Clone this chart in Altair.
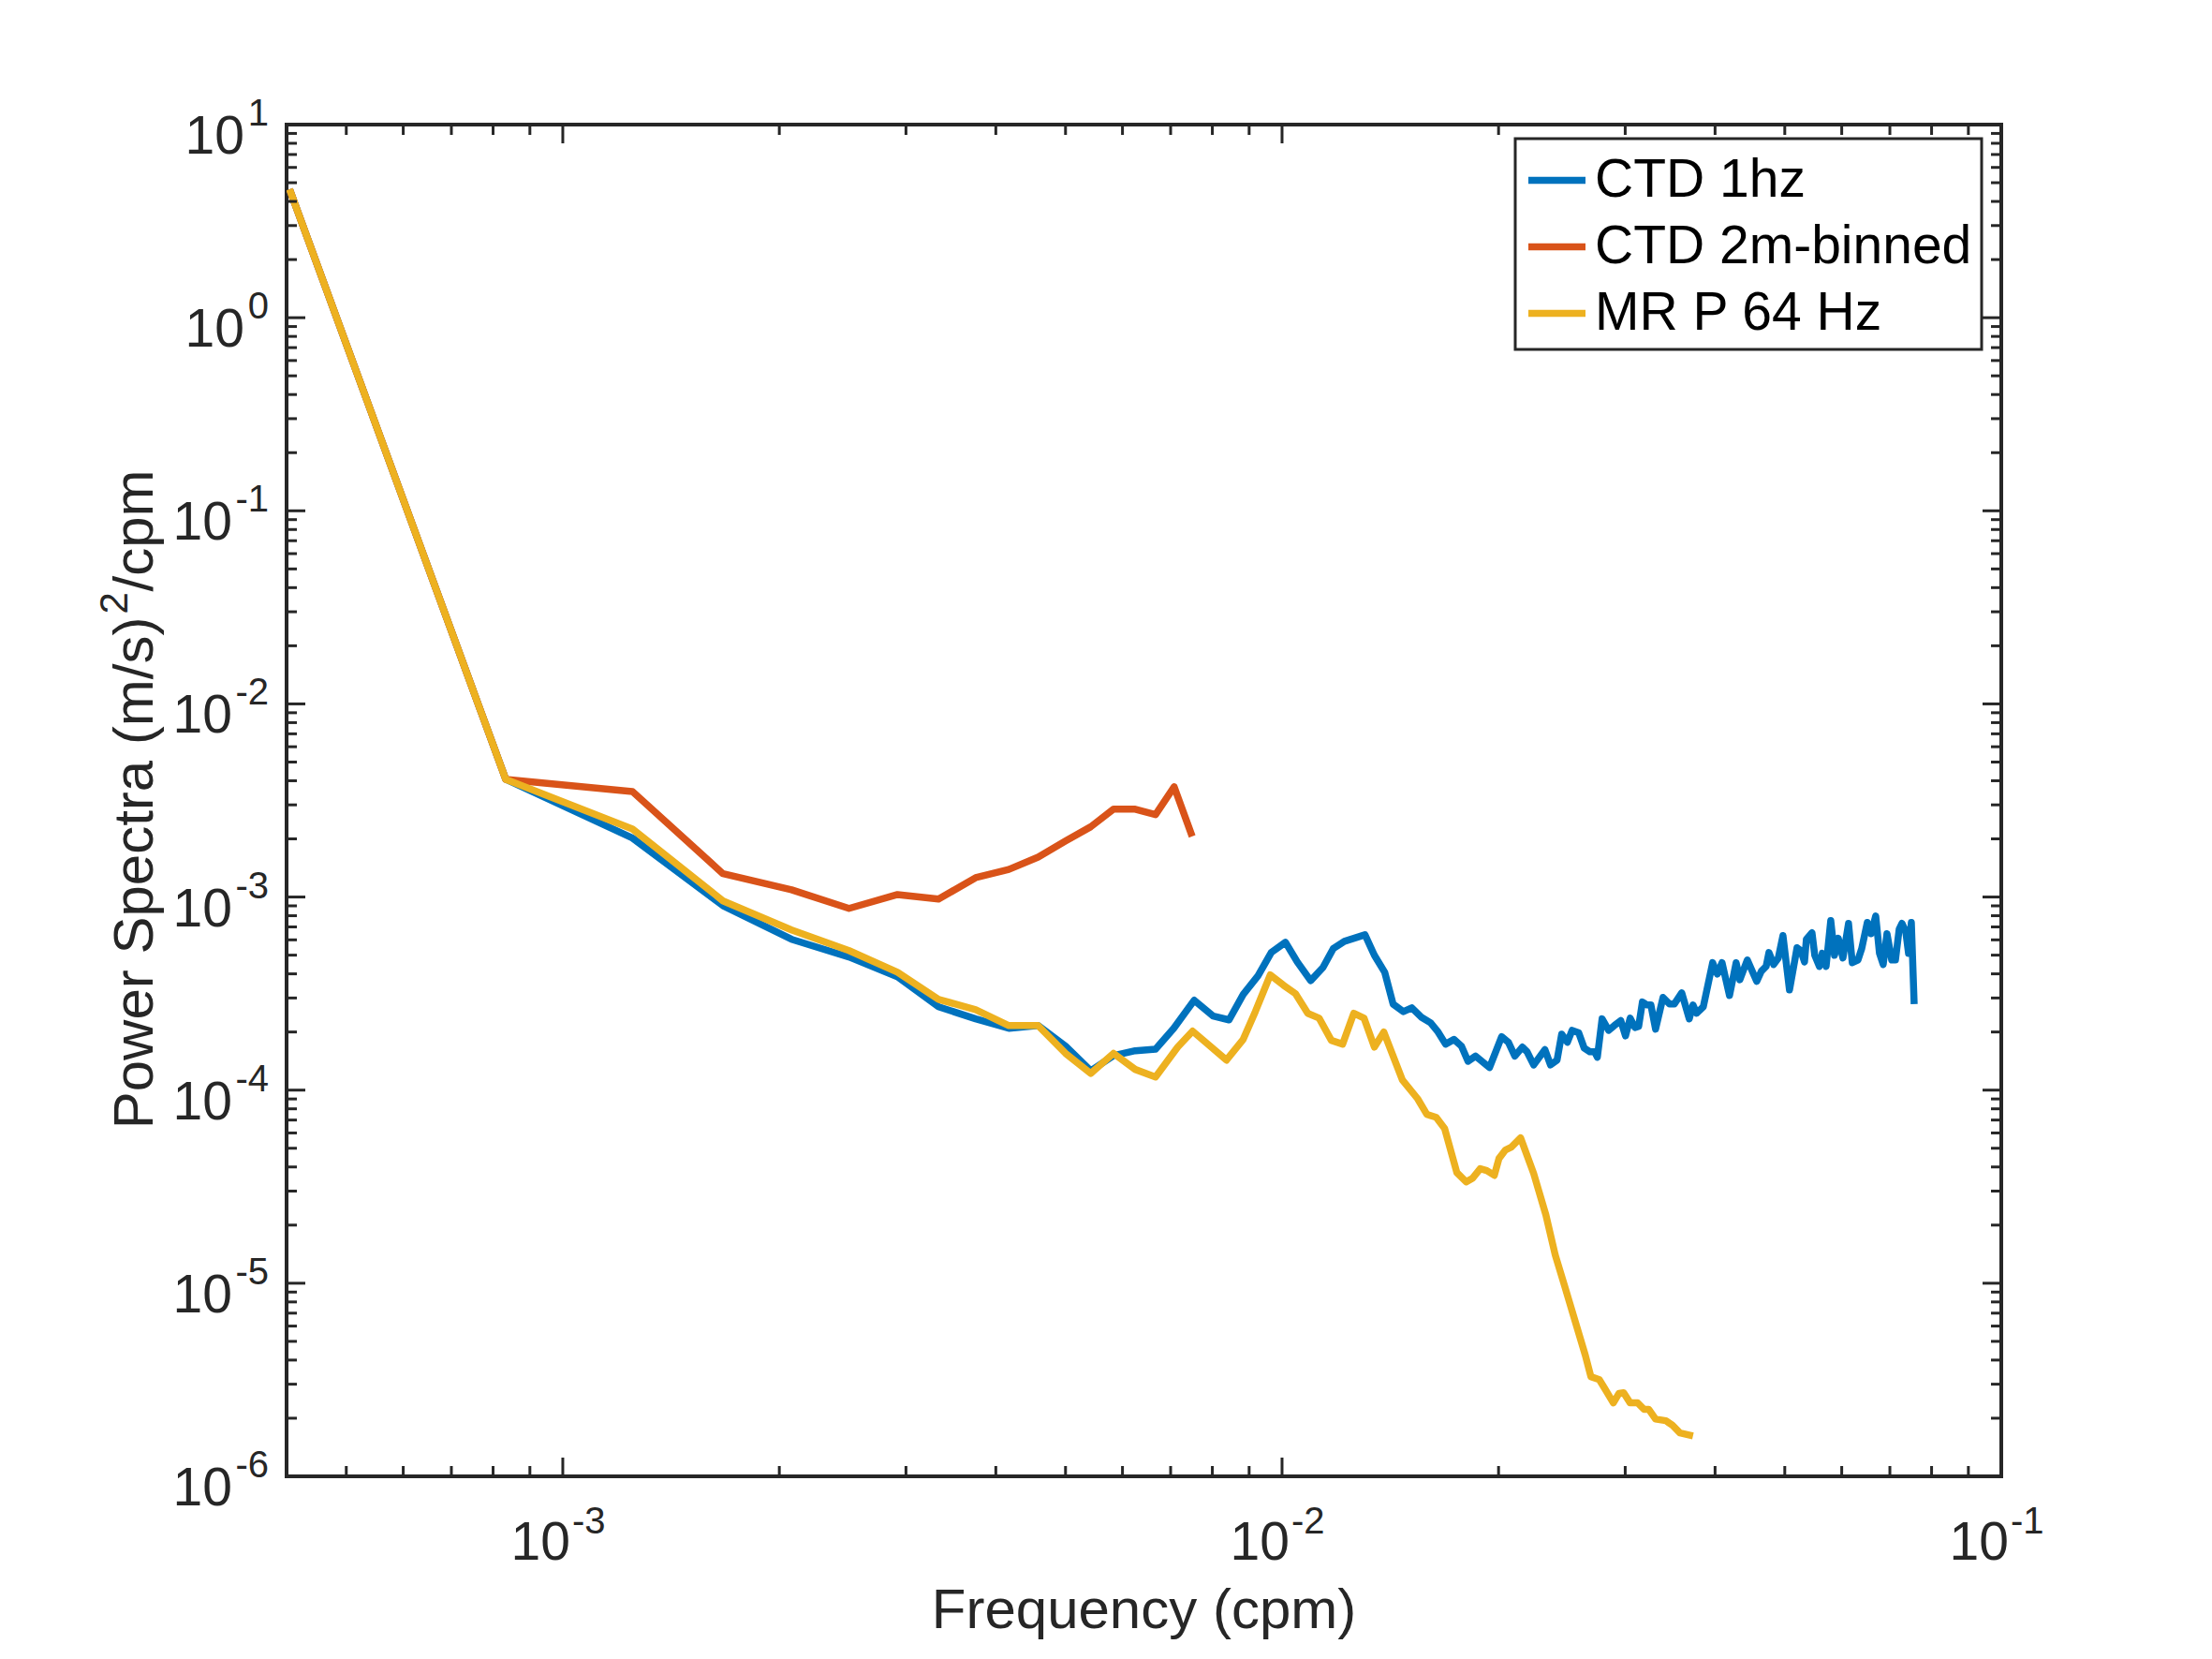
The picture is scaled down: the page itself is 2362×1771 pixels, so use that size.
import altair as alt
import pandas as pd

# ---------------- data ----------------
SERIES = ["CTD 1hz", "CTD 2m-binned", "MR P 64 Hz"]
COLORS = ["#0072BD", "#D95319", "#EDB120"]

ctd1_lo_freq = [4.17e-4, 8.33e-4, 1.25e-3, 1.67e-3, 2.08e-3, 2.50e-3, 2.92e-3, 3.33e-3, 3.75e-3, 4.17e-3,
                4.58e-3, 5.00e-3, 5.42e-3, 5.83e-3, 6.25e-3, 6.67e-3, 7.07e-3, 7.55e-3, 8.02e-3, 8.44e-3,
                8.83e-3, 9.26e-3, 9.66e-3, 1.011e-2, 1.05e-2, 1.096e-2, 1.14e-2, 1.178e-2, 1.221e-2, 1.304e-2,
                1.344e-2, 1.389e-2, 1.427e-2, 1.475e-2, 1.515e-2, 1.561e-2, 1.609e-2, 1.648e-2, 1.688e-2, 1.734e-2]
ctd1_lo_psd = [4.62, 4.07e-3, 2.02e-3, 9.02e-4, 6.04e-4, 4.89e-4, 3.86e-4, 2.70e-4, 2.34e-4, 2.09e-4,
               2.16e-4, 1.69e-4, 1.26e-4, 1.51e-4, 1.60e-4, 1.63e-4, 2.09e-4, 2.92e-4, 2.42e-4, 2.31e-4,
               3.13e-4, 3.91e-4, 5.16e-4, 5.83e-4, 4.61e-4, 3.69e-4, 4.32e-4, 5.40e-4, 5.90e-4, 6.38e-4,
               4.99e-4, 4.08e-4, 2.79e-4, 2.55e-4, 2.67e-4, 2.39e-4, 2.23e-4, 2.00e-4, 1.73e-4, 1.83e-4]

ctd1_hi_freq = [0.01776, 0.01814, 0.01858, 0.01943, 0.02020, 0.02064, 0.02107, 0.02158, 0.02191, 0.02238,
                0.02320, 0.02362, 0.02412, 0.02448, 0.02493, 0.02531, 0.02585, 0.02631, 0.02679, 0.02720,
                0.02744, 0.02786, 0.02845, 0.02897, 0.02958, 0.03003, 0.03048, 0.03095, 0.03132, 0.03170,
                0.03218, 0.03257, 0.03306, 0.03386, 0.03458, 0.03510, 0.03595, 0.03683, 0.03727, 0.03771,
                0.03852, 0.03969, 0.04029, 0.04090, 0.04189, 0.04279, 0.04330, 0.04435, 0.04570, 0.04639,
                0.04710, 0.04753, 0.04825, 0.04897, 0.04971, 0.05076, 0.05200, 0.05263, 0.05326, 0.05358,
                0.05455, 0.05504, 0.05587, 0.05638, 0.05707, 0.05793, 0.05863, 0.05934, 0.06023, 0.06132,
                0.06206, 0.06320, 0.06396, 0.06512, 0.06591, 0.06690, 0.06771, 0.06852, 0.06935, 0.07041,
                0.07126, 0.07212, 0.07277, 0.07365, 0.07431, 0.07498, 0.07566]
ctd1_hi_psd = [1.69e-4, 1.41e-4, 1.50e-4, 1.31e-4, 1.89e-4, 1.77e-4, 1.50e-4, 1.67e-4, 1.58e-4, 1.35e-4,
               1.62e-4, 1.35e-4, 1.43e-4, 1.95e-4, 1.77e-4, 2.04e-4, 1.98e-4, 1.65e-4, 1.58e-4, 1.58e-4,
               1.48e-4, 2.34e-4, 2.04e-4, 2.16e-4, 2.29e-4, 1.91e-4, 2.36e-4, 2.11e-4, 2.14e-4, 2.86e-4,
               2.76e-4, 2.76e-4, 2.07e-4, 3.02e-4, 2.79e-4, 2.79e-4, 3.19e-4, 2.34e-4, 2.76e-4, 2.50e-4,
               2.70e-4, 4.57e-4, 3.99e-4, 4.57e-4, 3.09e-4, 4.57e-4, 3.73e-4, 4.72e-4, 3.66e-4, 4.13e-4,
               4.37e-4, 5.16e-4, 4.47e-4, 4.83e-4, 6.31e-4, 3.30e-4, 5.46e-4, 5.28e-4, 4.61e-4, 6.04e-4,
               6.53e-4, 4.99e-4, 4.37e-4, 5.11e-4, 4.37e-4, 7.55e-4, 4.99e-4, 6.11e-4, 4.83e-4, 7.30e-4,
               4.57e-4, 4.72e-4, 5.40e-4, 7.38e-4, 6.46e-4, 7.98e-4, 5.11e-4, 4.47e-4, 6.46e-4, 4.72e-4,
               4.72e-4, 6.82e-4, 7.30e-4, 6.61e-4, 5.11e-4, 7.38e-4, 2.79e-4]

ctd2m_freq = [4.17e-4, 8.33e-4, 1.25e-3, 1.67e-3, 2.08e-3, 2.50e-3, 2.92e-3, 3.33e-3, 3.75e-3, 4.17e-3,
              4.58e-3, 5.00e-3, 5.42e-3, 5.83e-3, 6.25e-3, 6.67e-3, 7.08e-3, 7.50e-3]
ctd2m_psd = [4.62, 4.07e-3, 3.52e-3, 1.32e-3, 1.09e-3, 8.73e-4, 1.03e-3, 9.75e-4, 1.26e-3, 1.39e-3,
             1.61e-3, 1.95e-3, 2.31e-3, 2.85e-3, 2.85e-3, 2.67e-3, 3.72e-3, 2.06e-3]

mrp_freq = [4.17e-4, 8.33e-4, 1.25e-3, 1.67e-3, 2.08e-3, 2.50e-3, 2.92e-3, 3.33e-3, 3.75e-3, 4.17e-3,
            4.58e-3, 5.00e-3, 5.42e-3, 5.83e-3, 6.25e-3, 6.67e-3, 7.16e-3, 7.51e-3, 8.37e-3, 8.83e-3,
            9.18e-3, 9.63e-3, 1.005e-2, 1.044e-2, 1.086e-2, 1.126e-2, 1.171e-2, 1.214e-2, 1.258e-2, 1.30e-2,
            1.344e-2, 1.385e-2, 1.470e-2, 1.543e-2, 1.590e-2, 1.638e-2, 1.683e-2, 1.750e-2, 1.803e-2, 1.841e-2,
            1.886e-2, 1.926e-2, 1.973e-2, 2.003e-2, 2.045e-2, 2.083e-2, 2.146e-2, 2.238e-2, 2.327e-2, 2.398e-2,
            2.471e-2, 2.570e-2, 2.640e-2, 2.688e-2, 2.761e-2, 2.811e-2, 2.888e-2, 2.941e-2, 2.985e-2, 3.048e-2,
            3.122e-2, 3.188e-2, 3.236e-2, 3.306e-2, 3.417e-2, 3.489e-2, 3.574e-2, 3.727e-2]
mrp_psd = [4.62, 4.07e-3, 2.25e-3, 9.55e-4, 6.75e-4, 5.28e-4, 4.08e-4, 2.95e-4, 2.61e-4, 2.16e-4,
           2.16e-4, 1.55e-4, 1.22e-4, 1.55e-4, 1.28e-4, 1.17e-4, 1.67e-4, 2.02e-4, 1.43e-4, 1.83e-4,
           2.55e-4, 3.95e-4, 3.49e-4, 3.16e-4, 2.50e-4, 2.36e-4, 1.81e-4, 1.73e-4, 2.50e-4, 2.36e-4,
           1.67e-4, 2.00e-4, 1.13e-4, 9.04e-5, 7.48e-5, 7.23e-5, 6.32e-5, 3.74e-5, 3.35e-5, 3.50e-5,
           3.92e-5, 3.83e-5, 3.62e-5, 4.43e-5, 4.90e-5, 5.06e-5, 5.66e-5, 3.70e-5, 2.26e-5, 1.40e-5,
           9.68e-6, 5.93e-6, 4.24e-6, 3.28e-6, 3.17e-6, 2.84e-6, 2.40e-6, 2.69e-6, 2.71e-6, 2.40e-6,
           2.40e-6, 2.22e-6, 2.22e-6, 1.98e-6, 1.94e-6, 1.84e-6, 1.68e-6, 1.62e-6]

# axis ticks and labels
X_DOMAIN = [4.13e-4, 0.1]
Y_DOMAIN = [1e-6, 10]
X_MAJOR = [1e-3, 1e-2, 1e-1]
X_MAJOR_EXP = ["-3", "-2", "-1"]
X_MINOR_DECADES = [1e-4, 1e-3, 1e-2]
Y_MAJOR = [1e1, 1e0, 1e-1, 1e-2, 1e-3, 1e-4, 1e-5, 1e-6]
Y_MAJOR_EXP = ["1", "0", "-1", "-2", "-3", "-4", "-5", "-6"]
Y_MINOR_DECADES = [1e0, 1e-1, 1e-2, 1e-3, 1e-4, 1e-5, 1e-6]
MINOR_MULT = [2, 3, 4, 5, 6, 7, 8, 9]

X_TITLE = "Frequency (cpm)"
Y_TITLE_MAIN = "Power Spectra (m/s)"
Y_TITLE_SUP = "2"
Y_TITLE_TAIL = "/cpm"

# ---------------- build tables ----------------
lines_df = pd.concat([
    pd.DataFrame({"freq": ctd1_lo_freq + ctd1_hi_freq, "psd": ctd1_lo_psd + ctd1_hi_psd, "series": SERIES[0]}),
    pd.DataFrame({"freq": ctd2m_freq, "psd": ctd2m_psd, "series": SERIES[1]}),
    pd.DataFrame({"freq": mrp_freq, "psd": mrp_psd, "series": SERIES[2]}),
], ignore_index=True)

x_minor = [m * d for d in X_MINOR_DECADES for m in MINOR_MULT if X_DOMAIN[0] <= m * d <= X_DOMAIN[1]]
y_minor = [m * d for d in Y_MINOR_DECADES for m in MINOR_MULT]

xmaj_df = pd.DataFrame({"v": X_MAJOR, "e": X_MAJOR_EXP})
xmin_df = pd.DataFrame({"v": x_minor})
ymaj_df = pd.DataFrame({"v": Y_MAJOR, "e": Y_MAJOR_EXP})
ymin_df = pd.DataFrame({"v": y_minor})

# ---------------- style ----------------
W, H = 1831, 1443
FONT = "Liberation Sans"
AXC = "#262626"
MAJ, MIN = 20, 11
TW = 3
LW = 7.5

xs = alt.Scale(type="log", domain=X_DOMAIN, nice=False)
ys = alt.Scale(type="log", domain=Y_DOMAIN, nice=False)
color = alt.Color(
    "series:N",
    scale=alt.Scale(domain=SERIES, range=COLORS),
    legend=alt.Legend(
        title=None, orient="none", legendX=1312, legendY=15,
        symbolType="stroke", symbolSize=3721, symbolStrokeWidth=LW,
        labelFontSize=57, labelFont=FONT, labelColor="#000000", labelLimit=1000,
        labelOffset=6, padding=10, rowPadding=8,
        strokeColor=AXC, fillColor="#ffffff",
    ),
)


def series_line(name):
    return alt.Chart(lines_df).transform_filter(
        alt.datum.series == name
    ).mark_line(strokeWidth=LW, strokeJoin="round", clip=True).encode(
        x=alt.X("freq:Q", scale=xs, axis=None),
        y=alt.Y("psd:Q", scale=ys, axis=None),
        color=color,
    )


def xticks(df, length):
    bottom = alt.Chart(df).mark_rule(color=AXC, strokeWidth=TW).encode(
        x=alt.X("v:Q", scale=xs, axis=None), y=alt.value(H), y2=alt.value(H - length))
    top = alt.Chart(df).mark_rule(color=AXC, strokeWidth=TW).encode(
        x=alt.X("v:Q", scale=xs, axis=None), y=alt.value(0), y2=alt.value(length))
    return [bottom, top]


def yticks(df, length):
    left = alt.Chart(df).mark_rule(color=AXC, strokeWidth=TW).encode(
        y=alt.Y("v:Q", scale=ys, axis=None), x=alt.value(0), x2=alt.value(length))
    right = alt.Chart(df).mark_rule(color=AXC, strokeWidth=TW).encode(
        y=alt.Y("v:Q", scale=ys, axis=None), x=alt.value(W), x2=alt.value(W - length))
    return [left, right]


# tick labels: "10" with a raised exponent
x_base = alt.Chart(xmaj_df).mark_text(
    text="10", align="right", baseline="alphabetic", dx=8, dy=89, fontSize=57, font=FONT, color=AXC
).encode(x=alt.X("v:Q", scale=xs, axis=None), y=alt.value(H))
x_exp = alt.Chart(xmaj_df).mark_text(
    align="left", baseline="alphabetic", dx=10, dy=61, fontSize=40, font=FONT, color=AXC
).encode(x=alt.X("v:Q", scale=xs, axis=None), y=alt.value(H), text="e:N")

y_exp = alt.Chart(ymaj_df).mark_text(
    align="right", baseline="alphabetic", dy=1, fontSize=40, font=FONT, color=AXC
).encode(y=alt.Y("v:Q", scale=ys, axis=None), x=alt.value(-19), text="e:N")
y_base1 = alt.Chart(ymaj_df).transform_filter("length(datum.e) == 1").mark_text(
    text="10", align="right", baseline="alphabetic", dy=31, fontSize=57, font=FONT, color=AXC
).encode(y=alt.Y("v:Q", scale=ys, axis=None), x=alt.value(-45))
y_base2 = alt.Chart(ymaj_df).transform_filter("length(datum.e) == 2").mark_text(
    text="10", align="right", baseline="alphabetic", dy=31, fontSize=57, font=FONT, color=AXC
).encode(y=alt.Y("v:Q", scale=ys, axis=None), x=alt.value(-58))

x_title = alt.Chart(pd.DataFrame({"t": [X_TITLE]})).mark_text(
    align="center", baseline="alphabetic", fontSize=60, font=FONT, color=AXC
).encode(x=alt.value(W / 2), y=alt.value(H + 162), text="t:N")

# y title in three pieces (main text, raised superscript, tail), rotated 270
title_df = pd.DataFrame({"main": [Y_TITLE_MAIN], "sup": [Y_TITLE_SUP], "tail": [Y_TITLE_TAIL]})
y_title_main = alt.Chart(title_df).mark_text(
    align="right", baseline="alphabetic", angle=270, dx=196, fontSize=60, font=FONT, color=AXC
).encode(x=alt.value(-143), y=alt.value(H / 2), text="main:N")
y_title_sup = alt.Chart(title_df).mark_text(
    align="left", baseline="alphabetic", angle=270, dx=199, dy=-27, fontSize=42, font=FONT, color=AXC
).encode(x=alt.value(-143), y=alt.value(H / 2), text="sup:N")
y_title_tail = alt.Chart(title_df).mark_text(
    align="left", baseline="alphabetic", angle=270, dx=223, fontSize=60, font=FONT, color=AXC
).encode(x=alt.value(-143), y=alt.value(H / 2), text="tail:N")

layers = [series_line(s) for s in SERIES]
layers += xticks(xmaj_df, MAJ) + xticks(xmin_df, MIN) + yticks(ymaj_df, MAJ) + yticks(ymin_df, MIN)
layers += [x_base, x_exp, y_exp, y_base1, y_base2, x_title, y_title_main, y_title_sup, y_title_tail]

chart = alt.layer(*layers).properties(
    width=W, height=H,
    padding={"left": 298, "top": 125, "right": 200, "bottom": 180},
    autosize=alt.AutoSizeParams(type="none"),
    background="#ffffff",
).configure_view(
    stroke=AXC, strokeWidth=4
).configure_legend(
    strokeWidth=3
)

chart.save("out.html", embed_options={"renderer": "svg", "actions": False})
